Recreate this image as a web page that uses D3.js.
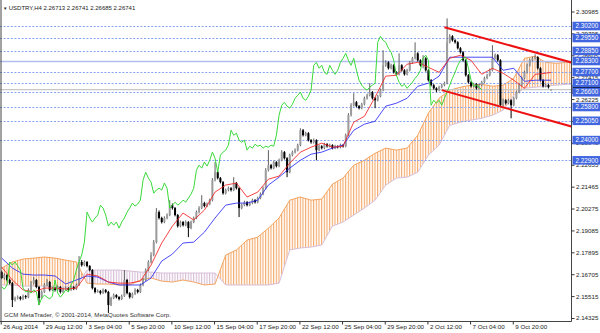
<!DOCTYPE html>
<html><head><meta charset="utf-8">
<script src="https://cdn.jsdelivr.net/npm/d3@7"></script>
<style>html,body{margin:0;padding:0;background:#fff;}svg{display:block;font-family:"Liberation Sans",Arial,sans-serif;}</style>
</head><body>
<svg id="c" width="600" height="333"></svg>
<script>
// ---------- DATA (USDTRY, H4) ----------
const opens = [2.1682,2.1650,2.1666,2.1639,2.1622,2.1530,2.1541,2.1546,2.1536,2.1552,
2.1546,2.1585,2.1622,2.1639,2.1601,2.1541,2.1574,2.1612,2.1628,2.1585,
2.1595,2.1585,2.1601,2.1574,2.1590,2.1595,2.1585,2.1601,2.1590,2.1612,
2.1737,2.1720,2.1737,2.1715,2.1693,2.1595,2.1574,2.1579,2.1568,2.1585,
2.1574,2.1503,2.1541,2.1557,2.1546,2.1536,2.1552,2.1639,2.1568,2.1546,
2.1563,2.1585,2.1574,2.1612,2.1639,2.1693,2.1737,2.1775,2.1845,2.2008,
2.1976,2.1954,2.1976,2.1992,2.2046,2.2030,2.1992,2.1932,2.1954,2.1937,
2.1954,2.1921,2.1954,2.1976,2.2008,2.2030,2.2057,2.2041,2.2052,2.2073,
2.2182,2.2225,2.2193,2.2171,2.2111,2.2128,2.2138,2.2128,2.2166,2.2138,
2.2030,2.2046,2.2062,2.2046,2.2057,2.2073,2.2062,2.2084,2.2106,2.2138,
2.2236,2.2263,2.2247,2.2280,2.2258,2.2290,2.2334,2.2301,2.2225,2.2318,
2.2334,2.2345,2.2372,2.2453,2.2426,2.2437,2.2399,2.2388,2.2399,2.2345,
2.2366,2.2356,2.2377,2.2366,2.2372,2.2356,2.2366,2.2361,2.2372,2.2366,
2.2426,2.2535,2.2589,2.2605,2.2584,2.2573,2.2594,2.2627,2.2643,2.2660,
2.2627,2.2616,2.2638,2.2671,2.2806,2.2822,2.2790,2.2806,2.2768,2.2757,
2.2806,2.2779,2.2757,2.2779,2.2822,2.2844,2.2871,2.2833,2.2806,2.2844,
2.2779,2.2725,2.2698,2.2681,2.2671,2.2687,2.2698,2.2709,2.2931,2.2964,
2.2942,2.2931,2.2899,2.2877,2.2833,2.2752,2.2714,2.2692,2.2703,2.2681,
2.2698,2.2714,2.2736,2.2752,2.2779,2.2844,2.2861,2.2833,2.2589,2.2616,
2.2600,2.2616,2.2589,2.2627,2.2660,2.2698,2.2736,2.2768,2.2806,2.2833,
2.2844,2.2850,2.2790,2.2725,2.2692,2.2698,2.26713];
const highs = [2.1690,2.1675,2.1672,2.1646,2.1628,2.1549,2.1555,2.1552,2.1560,2.1558,
2.1594,2.1633,2.1655,2.1644,2.1607,2.1583,2.1622,2.1644,2.1634,2.1603,
2.1601,2.1609,2.1606,2.1598,2.1604,2.1600,2.1608,2.1606,2.1620,2.1769,
2.1748,2.1745,2.1742,2.1720,2.1698,2.1600,2.1588,2.1585,2.1593,2.1590,
2.1580,2.1548,2.1566,2.1562,2.1551,2.1560,2.1693,2.1645,2.1573,2.1571,
2.1594,2.1591,2.1620,2.1650,2.1702,2.1746,2.1790,2.1856,2.2030,2.2017,
2.1983,2.1985,2.2001,2.2073,2.2055,2.2036,2.1998,2.1962,2.1960,2.1963,
2.1959,2.1962,2.1984,2.2017,2.2040,2.2100,2.2064,2.2060,2.2081,2.2193,
2.2280,2.2232,2.2199,2.2177,2.2136,2.2147,2.2144,2.2198,2.2172,2.2143,
2.2054,2.2070,2.2068,2.2065,2.2081,2.2079,2.2092,2.2115,2.2147,2.2247,
2.2345,2.2270,2.2288,2.2285,2.2299,2.2345,2.2340,2.2307,2.2326,2.2342,
2.2354,2.2380,2.2464,2.2460,2.2445,2.2443,2.2405,2.2408,2.2404,2.2374,
2.2372,2.2385,2.2383,2.2380,2.2377,2.2374,2.2371,2.2380,2.2378,2.2435,
2.2546,2.2600,2.2654,2.2612,2.2590,2.2602,2.2636,2.2652,2.2709,2.2666,
2.2633,2.2646,2.2680,2.2888,2.2833,2.2828,2.2815,2.2812,2.2774,2.2871,
2.2812,2.2785,2.2787,2.2830,2.2852,2.2931,2.2877,2.2839,2.2861,2.2850,
2.2785,2.2731,2.2704,2.2687,2.2695,2.2706,2.2717,2.3061,2.2975,2.2970,
2.2948,2.2937,2.2905,2.2883,2.2839,2.2758,2.2720,2.2711,2.2709,2.2706,
2.2722,2.2744,2.2760,2.2788,2.2915,2.2870,2.2867,2.2839,2.2625,2.2622,
2.2624,2.2622,2.2636,2.2668,2.2707,2.2745,2.2777,2.2815,2.2842,2.2853,
2.2866,2.2856,2.2796,2.2731,2.2706,2.2704,2.26741];
const lows = [2.1644,2.1641,2.1632,2.1615,2.1492,2.1522,2.1533,2.1528,2.1530,2.1537,
2.1540,2.1578,2.1615,2.1594,2.1503,2.1535,2.1568,2.1605,2.1577,2.1579,
2.1576,2.1580,2.1566,2.1569,2.1583,2.1578,2.1580,2.1584,2.1585,2.1606,
2.1712,2.1714,2.1708,2.1686,2.1588,2.1566,2.1570,2.1560,2.1563,2.1567,
2.1460,2.1497,2.1535,2.1539,2.1528,2.1530,2.1547,2.1561,2.1538,2.1540,
2.1557,2.1566,2.1568,2.1605,2.1633,2.1686,2.1730,2.1768,2.1838,2.1968,
2.1946,2.1948,2.1969,2.1986,2.2022,2.1985,2.1924,2.1926,2.1930,2.1931,
2.1872,2.1915,2.1948,2.1970,2.2001,2.2024,2.2034,2.2035,2.2046,2.2066,
2.2175,2.2186,2.2164,2.2103,2.2104,2.2121,2.2120,2.2122,2.2131,2.1981,
2.2023,2.2040,2.2039,2.2040,2.2051,2.2055,2.2056,2.2078,2.2100,2.2132,
2.2229,2.2240,2.2241,2.2251,2.2252,2.2284,2.2294,2.2198,2.2219,2.2311,
2.2327,2.2338,2.2366,2.2419,2.2420,2.2392,2.2380,2.2381,2.2290,2.2339,
2.2349,2.2350,2.2359,2.2360,2.2349,2.2350,2.2354,2.2355,2.2359,2.2360,
2.2420,2.2528,2.2582,2.2577,2.2566,2.2567,2.2588,2.2620,2.2637,2.2620,
2.2573,2.2610,2.2632,2.2665,2.2798,2.2783,2.2784,2.2761,2.2750,2.2751,
2.2772,2.2750,2.2751,2.2773,2.2815,2.2838,2.2826,2.2799,2.2790,2.2772,
2.2718,2.2691,2.2674,2.2660,2.2665,2.2681,2.2692,2.2703,2.2925,2.2935,
2.2924,2.2892,2.2870,2.2826,2.2745,2.2707,2.2685,2.2686,2.2674,2.2675,
2.2692,2.2708,2.2730,2.2746,2.2773,2.2838,2.2826,2.2580,2.2582,2.2593,
2.2594,2.2518,2.2583,2.2621,2.2654,2.2692,2.2730,2.2762,2.2800,2.2827,
2.2838,2.2783,2.2718,2.2685,2.2686,2.2680,2.26685];
const closes = [2.1650,2.1666,2.1639,2.1622,2.1530,2.1541,2.1546,2.1536,2.1552,2.1546,
2.1585,2.1622,2.1639,2.1601,2.1541,2.1574,2.1612,2.1628,2.1585,2.1595,
2.1585,2.1601,2.1574,2.1590,2.1595,2.1585,2.1601,2.1590,2.1612,2.1737,
2.1720,2.1737,2.1715,2.1693,2.1595,2.1574,2.1579,2.1568,2.1585,2.1574,
2.1503,2.1541,2.1557,2.1546,2.1536,2.1552,2.1639,2.1568,2.1546,2.1563,
2.1585,2.1574,2.1612,2.1639,2.1693,2.1737,2.1775,2.1845,2.2008,2.1976,
2.1954,2.1976,2.1992,2.2046,2.2030,2.1992,2.1932,2.1954,2.1937,2.1954,
2.1921,2.1954,2.1976,2.2008,2.2030,2.2057,2.2041,2.2052,2.2073,2.2182,
2.2225,2.2193,2.2171,2.2111,2.2128,2.2138,2.2128,2.2166,2.2138,2.2030,
2.2046,2.2062,2.2046,2.2057,2.2073,2.2062,2.2084,2.2106,2.2138,2.2236,
2.2263,2.2247,2.2280,2.2258,2.2290,2.2334,2.2301,2.2225,2.2318,2.2334,
2.2345,2.2372,2.2453,2.2426,2.2437,2.2399,2.2388,2.2399,2.2345,2.2366,
2.2356,2.2377,2.2366,2.2372,2.2356,2.2366,2.2361,2.2372,2.2366,2.2426,
2.2535,2.2589,2.2605,2.2584,2.2573,2.2594,2.2627,2.2643,2.2660,2.2627,
2.2616,2.2638,2.2671,2.2806,2.2822,2.2790,2.2806,2.2768,2.2757,2.2806,
2.2779,2.2757,2.2779,2.2822,2.2844,2.2871,2.2833,2.2806,2.2844,2.2779,
2.2725,2.2698,2.2681,2.2671,2.2687,2.2698,2.2709,2.2931,2.2964,2.2942,
2.2931,2.2899,2.2877,2.2833,2.2752,2.2714,2.2692,2.2703,2.2681,2.2698,
2.2714,2.2736,2.2752,2.2779,2.2844,2.2861,2.2833,2.2589,2.2616,2.2600,
2.2616,2.2589,2.2627,2.2660,2.2698,2.2736,2.2768,2.2806,2.2833,2.2844,
2.2850,2.2790,2.2725,2.2692,2.2698,2.2687,2.26741];

// Ichimoku lines, every 4th bar (last at bar 206)
const ichiBars = d3.range(0, 205, 4).concat([206]);
const tenkan = [2.1709,2.1639,2.1585,2.1574,2.1595,2.1595,2.1590,2.1595,2.1671,2.1661,
2.1628,2.1622,2.1622,2.1633,2.1720,2.1840,2.1932,2.2003,2.1965,2.2019,
2.2117,2.2155,2.2166,2.2090,2.2117,2.2187,2.2204,2.2274,2.2334,2.2361,
2.2383,2.2361,2.2366,2.2497,2.2529,2.2633,2.2747,2.2752,2.2812,2.2822,
2.2795,2.2768,2.2844,2.2861,2.2833,2.2757,2.2790,2.2763,2.2725,2.2681,
2.2757,2.2763,2.2768];
const kijun = [2.1758,2.1704,2.1671,2.1666,2.1666,2.1661,2.1617,2.1639,2.1661,2.1655,
2.1628,2.1612,2.1612,2.1612,2.1650,2.1742,2.1780,2.1840,2.1845,2.1899,
2.1976,2.2046,2.2057,2.2057,2.2073,2.2155,2.2198,2.2247,2.2290,2.2323,
2.2334,2.2356,2.2372,2.2453,2.2486,2.2502,2.2584,2.2600,2.2627,2.2692,
2.2709,2.2747,2.2850,2.2850,2.2850,2.2850,2.2850,2.2779,2.2790,2.2719,
2.2725,2.2725,2.2725];
// Kumo (senkou spans, already shifted forward), every 4th bar
const cloudBars = d3.range(0, 217, 4);
const spanA = [2.1704,2.1737,2.1753,2.1758,2.1764,2.1758,2.1747,2.1737,2.1622,2.1617,
2.1617,2.1612,2.1612,2.1639,2.1650,2.1633,2.1628,2.1639,2.1628,2.1612,
2.1617,2.1775,2.1802,2.1856,2.1872,2.1921,2.1976,2.2073,2.2090,2.2073,
2.2079,2.2160,2.2193,2.2263,2.2290,2.2328,2.2356,2.2345,2.2356,2.2426,
2.2546,2.2627,2.2671,2.2687,2.2698,2.2703,2.2692,2.2698,2.2736,2.2844,
2.2855,2.2822,2.2817,2.2822,2.2822];
const spanB = [2.1612,2.1612,2.1606,2.1606,2.1606,2.1601,2.1601,2.1606,2.1693,2.1693,
2.1693,2.1693,2.1688,2.1682,2.1682,2.1677,2.1677,2.1677,2.1677,2.1677,
2.1677,2.1612,2.1612,2.1612,2.1612,2.1612,2.1622,2.1802,2.1813,2.1818,
2.1829,2.1932,2.1954,2.1992,2.2030,2.2073,2.2155,2.2193,2.2198,2.2225,
2.2318,2.2372,2.2480,2.2497,2.2508,2.2518,2.2535,2.2562,2.2643,2.2681,
2.2687,2.2692,2.2698,2.2703,2.2703];
const chikouShift = 26;

// Trend channel (bar, price)
const channelUpper = [[166, 2.3013], [214, 2.2820]];
const channelLower = [[165, 2.2671], [214, 2.2472]];

// Horizontal levels and their labels
const levels = [2.30200, 2.29550, 2.28850, 2.28300, 2.27700, 2.27100, 2.26600, 2.25800, 2.25050, 2.24000, 2.22900];
const solidLevels = [2.28300];
const bidPrice = 2.26741;

const yTicks = [2.30985,2.29795,2.28605,2.27415,2.26225,2.25035,2.23845,2.22655,2.21465,2.20275,2.19085,2.17895,2.16705,2.15515,2.14325];
const dateTicks = [0,16,32,48,64,80,96,112,128,144,160,176,192];
const dateLabels = ["26 Aug 2014","29 Aug 12:00","3 Sep 04:00","5 Sep 20:00","10 Sep 12:00","15 Sep 04:00","17 Sep 20:00","22 Sep 12:00","25 Sep 04:00","29 Sep 20:00","2 Oct 12:00","7 Oct 04:00","9 Oct 20:00"];
const titleText = "USDTRY,H4  2.26713 2.26741 2.26685 2.26741";
const copyText = "GCM MetaTrader, \u00A9 2001-2014, MetaQuotes Software Corp.";

// ---------- DRAWING ----------
const FONT = '"Liberation Sans",Arial,sans-serif';
const svg = d3.select('#c');
const plotR = 571, plotB = 321;
const step = 2.667;
const x = d3.scaleLinear().domain([0, 213]).range([1.7, 1.7 + 213 * step]);
const y = d3.scaleLinear().domain([2.14325, 2.30985]).range([318, 11.5]);

svg.append('rect').attr('width', 600).attr('height', 333).attr('fill', '#fff');
const defs = svg.append('defs');
defs.append('clipPath').attr('id', 'plotClip').append('rect').attr('x', 0).attr('y', 0).attr('width', plotR).attr('height', plotB);
function hatch(id, color) {
  const p = defs.append('pattern').attr('id', id).attr('patternUnits', 'userSpaceOnUse')
    .attr('width', step).attr('height', 4).attr('x', x(0) - 0.6);
  p.append('rect').attr('x', 0).attr('y', 0).attr('width', 1.1).attr('height', 4).attr('fill', color);
}
hatch('hUp', '#f5a868');
hatch('hDn', '#d6bcd6');

const cloud = cloudBars.map((b, i) => ({ b, a: spanA[i], s: spanB[i] }));
defs.append('clipPath').attr('id', 'aboveB').append('path')
  .attr('d', d3.area().x(d => x(d.b)).y0(d => y(d.s)).y1(0)(cloud));
defs.append('clipPath').attr('id', 'belowB').append('path')
  .attr('d', d3.area().x(d => x(d.b)).y0(d => y(d.s)).y1(plotB)(cloud));

const plot = svg.append('g').attr('clip-path', 'url(#plotClip)');

// Kumo
const band = d3.area().x(d => x(d.b)).y0(d => y(d.a)).y1(d => y(d.s));
plot.append('g').attr('clip-path', 'url(#aboveB)').append('path').attr('d', band(cloud)).attr('fill', 'url(#hUp)');
plot.append('g').attr('clip-path', 'url(#belowB)').append('path').attr('d', band(cloud)).attr('fill', 'url(#hDn)');
plot.append('path').attr('d', d3.line().x(d => x(d.b)).y(d => y(d.a))(cloud)).attr('fill', 'none').attr('stroke', '#f4a460').attr('stroke-width', 1);
plot.append('path').attr('d', d3.line().x(d => x(d.b)).y(d => y(d.s))(cloud)).attr('fill', 'none').attr('stroke', '#d8bfd8').attr('stroke-width', 1);

// Level lines
levels.forEach(l => {
  const solid = solidLevels.includes(l);
  const yy = Math.round(y(l)) + 0.5;
  plot.append('line').attr('x1', 0).attr('x2', plotR).attr('y1', yy).attr('y2', yy)
    .attr('stroke', solid ? '#b0bff0' : '#86a2f4').attr('stroke-width', solid ? 1.6 : 1)
    .attr('stroke-dasharray', solid ? null : '2,1.6');
});
plot.append('line').attr('x1', 0).attr('x2', plotR).attr('y1', y(bidPrice)).attr('y2', y(bidPrice))
  .attr('stroke', '#c8c8c8').attr('stroke-width', 1.2);

// Candles
const candles = closes.map((c, i) => ({ i, o: opens[i], h: highs[i], l: lows[i], c }));
const cg = plot.append('g');
cg.selectAll('line.w').data(candles).join('line').attr('class', 'w')
  .attr('x1', d => x(d.i)).attr('x2', d => x(d.i)).attr('y1', d => y(d.h)).attr('y2', d => y(d.l))
  .attr('stroke', d => d.c >= d.o ? '#606060' : '#000').attr('stroke-width', 1);
cg.selectAll('rect.b').data(candles).join('rect').attr('class', 'b')
  .attr('x', d => x(d.i) - 1).attr('width', 2)
  .attr('y', d => y(Math.max(d.o, d.c))).attr('height', d => Math.max(0.8, Math.abs(y(d.o) - y(d.c))))
  .attr('fill', d => d.c >= d.o ? '#9c9c9c' : '#000');

// Ichimoku lines
const lineI = d3.line().x(d => x(d[0])).y(d => y(d[1]));
plot.append('path').attr('d', lineI(ichiBars.map((b, i) => [b, kijun[i]]))).attr('fill', 'none').attr('stroke', '#2a2af5').attr('stroke-width', 1).attr('opacity', 0.85);
plot.append('path').attr('d', lineI(ichiBars.map((b, i) => [b, tenkan[i]]))).attr('fill', 'none').attr('stroke', '#f52222').attr('stroke-width', 1).attr('opacity', 0.85);
const chikou = closes.slice(chikouShift).map((c, i) => [i, c]);
plot.append('path').attr('d', lineI(chikou)).attr('fill', 'none').attr('stroke', '#3ada3a').attr('stroke-width', 1);

// Channel
[channelUpper, channelLower].forEach(ch => {
  plot.append('path').attr('d', lineI(ch)).attr('stroke', '#ee1111').attr('stroke-width', 2).attr('fill', 'none');
});

// Frame
svg.append('line').attr('x1', 1).attr('x2', 1).attr('y1', 0).attr('y2', plotB + 0.5).attr('stroke', '#444');
svg.append('line').attr('x1', 0).attr('x2', plotR + 0.5).attr('y1', plotB + 0.5).attr('y2', plotB + 0.5).attr('stroke', '#444');
svg.append('line').attr('x1', plotR + 0.5).attr('x2', plotR + 0.5).attr('y1', 0).attr('y2', plotB + 0.5).attr('stroke', '#444');

// Y axis
const gy = svg.append('g').attr('transform', `translate(${plotR + 0.5},0)`)
  .call(d3.axisRight(y).tickValues(yTicks).tickSize(3).tickFormat(d3.format('.5f')));
gy.select('.domain').remove();
gy.attr('font-size', 6.2).attr('font-family', FONT);
gy.selectAll('line').attr('stroke', '#333');
gy.selectAll('text').attr('fill', '#222').attr('x', 4.5);

// Bid marker then level labels
svg.append('rect').attr('x', 572.5).attr('y', y(bidPrice) - 4.5).attr('width', 28).attr('height', 9).attr('fill', '#000');
levels.forEach(l => {
  svg.append('rect').attr('x', 572.5).attr('y', y(l) - 4.2).attr('width', 28).attr('height', 8.6).attr('fill', '#4166e0');
  svg.append('text').attr('x', 575.5).attr('y', y(l) + 2.3).attr('font-size', 6.3).attr('font-family', FONT).attr('fill', '#fff').text(d3.format('.5f')(l));
});

// X axis
const gx = svg.append('g').attr('transform', `translate(-1,${plotB + 0.5})`)
  .call(d3.axisBottom(x).tickValues(dateTicks).tickSize(3).tickFormat((d, i) => dateLabels[i]));
gx.select('.domain').remove();
gx.attr('font-size', 6.2).attr('font-family', FONT);
gx.selectAll('line').attr('stroke', '#333');
gx.selectAll('text').attr('text-anchor', 'start').attr('x', 2).attr('y', 3.5).attr('fill', '#222');

// Title & copyright
const t = svg.append('text').attr('x', 3).attr('y', 9.5).attr('font-size', 6).attr('font-family', FONT).attr('fill', '#222');
t.append('tspan').attr('font-size', 4.5).text('\u25BC ');
t.append('tspan').text(titleText);
svg.append('text').attr('x', 4).attr('y', 316.5).attr('font-size', 6.2).attr('font-family', FONT).attr('fill', '#333').text(copyText);
</script>
</body></html>
